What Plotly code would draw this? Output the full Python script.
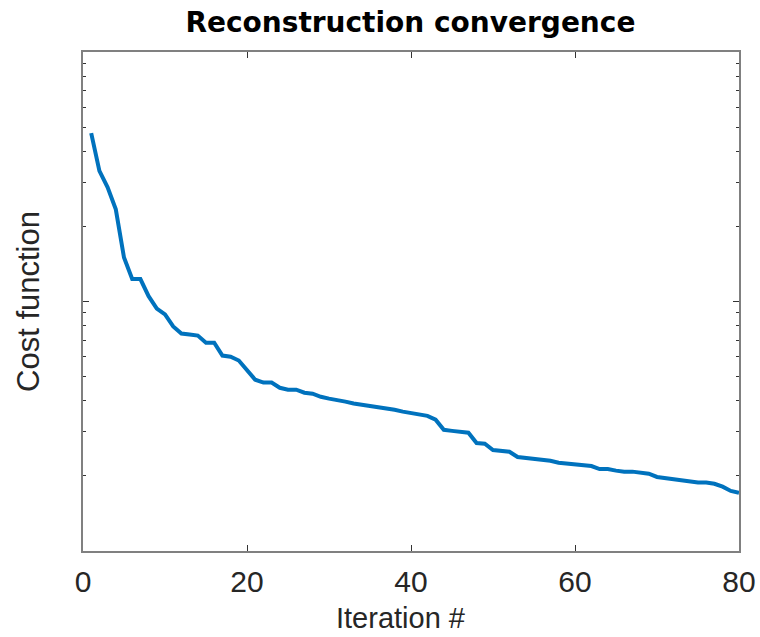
import plotly.graph_objects as go

# Iteration numbers
iterations = list(range(1, 81))

# Cost function values (log scale; major tick = 1)
cost = [
    4.73, 3.34, 2.87, 2.34, 1.50, 1.23, 1.23, 1.05, 0.937, 0.887,
    0.794, 0.744, 0.737, 0.730, 0.684, 0.684, 0.607, 0.601, 0.580, 0.533,
    0.486, 0.473, 0.473, 0.451, 0.443, 0.443, 0.431, 0.427, 0.415, 0.408,
    0.404, 0.397, 0.390, 0.386, 0.382, 0.379, 0.375, 0.368, 0.362, 0.358,
    0.355, 0.348, 0.336, 0.306, 0.303, 0.300, 0.298, 0.271, 0.269, 0.254,
    0.252, 0.250, 0.238, 0.236, 0.234, 0.232, 0.230, 0.226, 0.224, 0.221,
    0.219, 0.219, 0.213, 0.213, 0.210, 0.208, 0.208, 0.206, 0.204, 0.198,
    0.196, 0.195, 0.193, 0.191, 0.188, 0.188, 0.186, 0.181, 0.174, 0.171,
]

x_ticks = [0, 20, 40, 60, 80]
y_major = [1]
y_minor = [0.2, 0.3, 0.4, 0.5, 0.6, 0.7, 0.8, 0.9, 2, 3, 4, 5, 6, 7, 8, 9]

fig = go.Figure()
fig.add_trace(go.Scatter(
    x=iterations, y=cost, mode="lines",
    line=dict(color="#0072BD", width=4),
    showlegend=False,
))

axis_common = dict(
    showline=True, linecolor="#808080", linewidth=2, mirror="allticks",
    ticks="inside", tickcolor="#333333", tickwidth=1, ticklen=6,
    showgrid=False, zeroline=False, automargin=False,
)

fig.update_layout(
    width=760, height=637,
    margin=dict(l=83, r=21, t=52, b=86),
    paper_bgcolor="white", plot_bgcolor="white",
    title=dict(
        text="<b>Reconstruction convergence</b>",
        x=0.54, xanchor="center", y=0.965, yanchor="middle",
        font=dict(family="DejaVu Sans", size=28, color="black"),
    ),
    xaxis=dict(
        range=[0, 80], tickmode="array", tickvals=x_ticks,
        ticklabelstandoff=3,
        tickfont=dict(family="Liberation Sans", size=30, color="#262626"),
        **axis_common,
    ),
    yaxis=dict(
        type="log", range=[-1, 1], tickmode="array", tickvals=y_major,
        showticklabels=False,
        minor=dict(tickmode="array", tickvals=y_minor, ticks="inside", ticklen=3,
                   tickcolor="#333333", showgrid=False),
        title=dict(text="Cost function", standoff=32,
                   font=dict(family="Liberation Sans", size=31, color="#262626")),
        **axis_common,
    ),
    annotations=[dict(
        text="Iteration #", xref="paper", yref="paper",
        x=0.484, y=-0.098, xanchor="center", yanchor="top", showarrow=False,
        font=dict(family="Liberation Sans", size=29, color="#262626"),
    )],
)

fig.write_html("out.html")
